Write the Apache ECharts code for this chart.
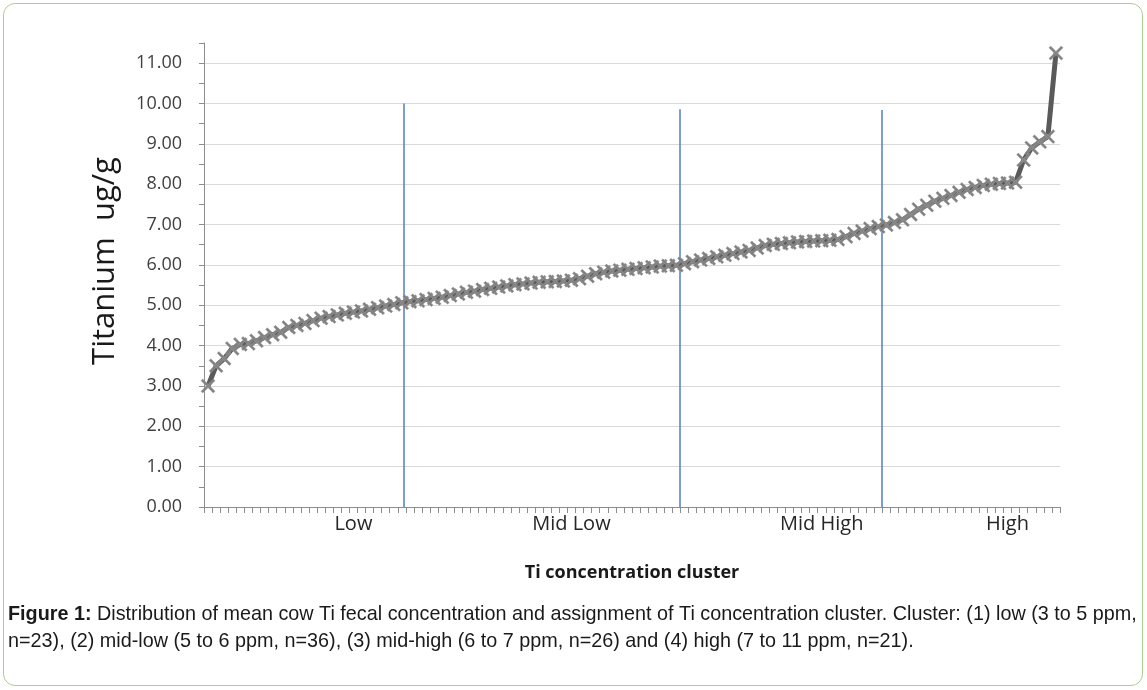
<!DOCTYPE html>
<html>
<head>
<meta charset="utf-8">
<script src="https://cdn.jsdelivr.net/npm/echarts@6/dist/echarts.min.js"></script>
<style>
html,body{margin:0;padding:0;background:#fff;}
#frame{position:absolute;left:3px;top:3px;width:1140px;height:683px;border:1.5px solid #a9d18e;border-radius:12px;box-sizing:border-box;}
#chart{position:absolute;left:0;top:0;width:1147px;height:690px;}
</style>
</head>
<body>
<div id="frame"></div>
<div id="chart"></div>
<script>
// ---- data ----
const titanium = [
  3.00, 3.50, 3.68, 3.93, 4.03, 4.05, 4.12, 4.20, 4.27, 4.33,
  4.45, 4.50, 4.55, 4.62, 4.68, 4.72, 4.76, 4.80, 4.83, 4.86,
  4.90, 4.94, 4.98, 5.02, 5.06, 5.09, 5.11, 5.14, 5.17, 5.20,
  5.24, 5.28, 5.32, 5.35, 5.39, 5.42, 5.45, 5.48, 5.51, 5.53,
  5.55, 5.57, 5.58, 5.59, 5.60, 5.62, 5.66, 5.72, 5.78, 5.82,
  5.85, 5.87, 5.89, 5.91, 5.93, 5.95, 5.97, 5.98, 5.99, 6.03,
  6.08, 6.12, 6.16, 6.20, 6.24, 6.28, 6.32, 6.36, 6.42, 6.48,
  6.51, 6.53, 6.55, 6.57, 6.58, 6.59, 6.60, 6.61, 6.63, 6.70,
  6.78, 6.84, 6.90, 6.95, 6.99, 7.05, 7.12, 7.25, 7.38, 7.48,
  7.58, 7.65, 7.72, 7.80, 7.87, 7.92, 7.97, 8.00, 8.02, 8.03,
  8.05, 8.60, 8.90, 9.05, 9.18, 11.25
];
const clusterLabels = ['Low', 'Mid Low', 'Mid High', 'High'];
const clusterLabelIndex = [18, 45, 76, 99];
const dividerX = [24.75, 58.9, 83.9];      // position in category units
const dividerTop = [10.0, 9.86, 9.84];
const yTickLabels = ['0.00','1.00','2.00','3.00','4.00','5.00','6.00','7.00','8.00','9.00','10.00','11.00'];

const categories = titanium.map((v, i) => {
  const k = clusterLabelIndex.indexOf(i);
  return k >= 0 ? clusterLabels[k] : '';
});

const chart = echarts.init(document.getElementById('chart'), null, {renderer: 'canvas'});
const xSymbol = 'path://M0,1.2 L1.2,0 L10,8.8 L8.8,10 Z M8.8,0 L10,1.2 L1.2,10 L0,8.8 Z';

chart.setOption({
  backgroundColor: 'transparent',
  animation: false,
  grid: {left: 204, right: 87, top: 43, bottom: 183},
  xAxis: [{
    type: 'category',
    data: categories,
    boundaryGap: true,
    axisLine: {lineStyle: {color: '#8c8c8c', width: 1}},
    axisTick: {show: true, interval: 0, length: 6, lineStyle: {color: '#8c8c8c'}},
    axisLabel: {interval: 0, color: '#262626', fontFamily: 'Open Sans', fontSize: 20, margin: 7},
    name: 'Ti concentration cluster',
    nameLocation: 'middle',
    nameGap: 57,
    nameTextStyle: {fontFamily: 'Open Sans', fontWeight: 'bold', fontSize: 18, color: '#1a1a1a'}
  }, {
    type: 'value', min: 0, max: titanium.length, show: false
  }],
  yAxis: [{
    type: 'value',
    min: 0, max: 11.5, interval: 0.5,
    axisLine: {show: true, lineStyle: {color: '#8c8c8c', width: 1}},
    axisTick: {show: true, length: 5, lineStyle: {color: '#8c8c8c'}},
    axisLabel: {
      color: '#404040', fontFamily: 'Open Sans', fontSize: 18, margin: 22,
      formatter: v => (Math.abs(v - Math.round(v)) < 1e-9 && yTickLabels[Math.round(v)]) ? yTickLabels[Math.round(v)] : ''
    },
    splitLine: {show: false}
  }, {
    type: 'value',
    min: 0, max: 11.5, interval: 1,
    position: 'left',
    axisLine: {show: false}, axisTick: {show: false}, axisLabel: {show: false},
    splitLine: {show: true, showMaxLine: false, lineStyle: {color: '#d9d9d9', width: 1}}
  }],
  series: [{
    type: 'line',
    data: titanium,
    xAxisIndex: 0, yAxisIndex: 0,
    lineStyle: {color: '#5a5a5a', width: 5},
    symbol: xSymbol,
    symbolSize: 14,
    itemStyle: {color: '#808080', borderColor: '#9a9a9a', borderWidth: 0.5},
    z: 3
  }, {
    type: 'lines',
    coordinateSystem: 'cartesian2d',
    xAxisIndex: 1, yAxisIndex: 0,
    lineStyle: {color: '#4f7fbf', width: 1.5, opacity: 1},
    data: dividerX.map((x, i) => ({coords: [[x, 0], [x, dividerTop[i]]]})),
    z: 2,
    silent: true
  }],
  graphic: [{
    type: 'text',
    x: 105, y: 261,
    rotation: Math.PI / 2,
    style: {
      text: 'Titanium  ug/g',
      fontFamily: 'Open Sans', fontSize: 31, fill: '#1a1a1a',
      align: 'center', verticalAlign: 'middle'
    }
  }, {
    type: 'text',
    left: 8, top: 601,
    style: {
      text: '{b|Figure 1:} Distribution of mean cow Ti fecal concentration and assignment of Ti concentration cluster. Cluster: (1) low (3 to 5 ppm,\nn=23), (2) mid-low (5 to 6 ppm, n=36), (3) mid-high (6 to 7 ppm, n=26) and (4) high (7 to 11 ppm, n=21).',
      fontFamily: 'Liberation Sans', fontSize: 19.8, lineHeight: 27, fill: '#1a1a1a',
      rich: {b: {fontFamily: 'Liberation Sans', fontWeight: 'bold', fontSize: 19.8, lineHeight: 27, fill: '#1a1a1a'}}
    }
  }]
});
</script>
</body>
</html>
